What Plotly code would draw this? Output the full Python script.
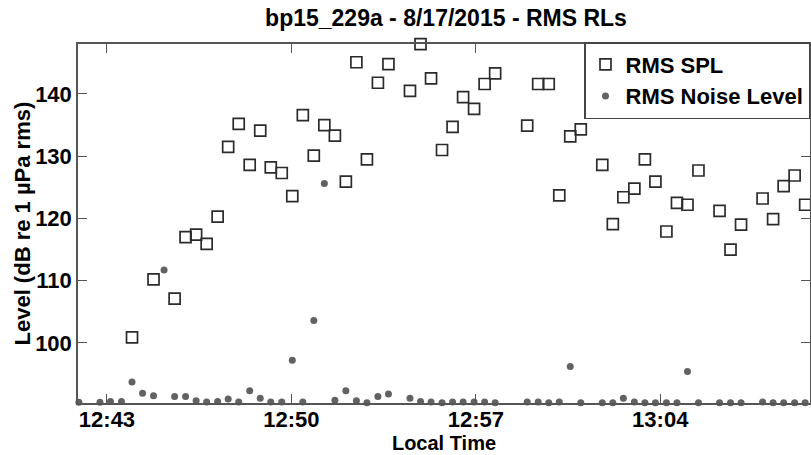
import plotly.graph_objects as go

DATE = "2015-08-17 "

times = ["12:41:56","12:42:44","12:43:08","12:43:33","12:43:57","12:44:21","12:44:46","12:45:10",
         "12:45:34","12:45:59","12:46:23","12:46:47","12:47:12","12:47:36","12:48:00","12:48:25",
         "12:48:49","12:49:13","12:49:38","12:50:02","12:50:26","12:50:51","12:51:15","12:51:39",
         "12:52:04","12:52:28","12:52:52","12:53:17","12:53:41","12:54:30","12:54:54","12:55:18",
         "12:55:43","12:56:07","12:56:31","12:56:56","12:57:20","12:57:44","12:58:57","12:59:22",
         "12:59:46","13:00:10","13:00:35","13:00:59","13:01:48","13:02:12","13:02:36","13:03:01",
         "13:03:25","13:03:49","13:04:14","13:04:38","13:05:02","13:05:27","13:06:15","13:06:40",
         "13:07:04","13:07:53","13:08:17","13:08:41","13:09:06","13:09:30","13:09:54"]

rms_spl = [None, None, None, None, 100.9, None, 110.2, None,
           107.1, 117.0, 117.4, 115.9, 120.3, 131.5, 135.2, 128.6,
           134.1, 128.2, 127.3, 123.6, 136.6, 130.1, 135.0, 133.3,
           125.9, 145.1, 129.5, 141.8, 144.8, 140.5, 148.0, 142.5,
           131.0, 134.7, 139.5, 137.6, 141.6, 143.3, 134.9, 141.6,
           141.6, 123.7, 133.2, 134.3, 128.6, 119.1, 123.4, 124.8,
           129.5, 125.9, 117.9, 122.5, 122.2, 127.7, 121.2, 115.0,
           119.0, 123.2, 119.9, 125.2, 126.9, 122.2, 117.9]

rms_noise = [90.45, 90.45, 90.6, 90.6, 93.7, 91.9, 91.5, 111.7,
             91.4, 91.4, 90.7, 90.5, 90.6, 91.0, 90.5, 92.3,
             91.1, 90.5, 90.5, 97.2, 90.5, 103.6, 125.6, 90.8,
             92.3, 90.7, 90.4, 91.4, 91.8, 91.1, 90.6, 90.5,
             90.4, 90.5, 90.5, 90.5, 90.5, 90.4, 90.5, 90.5,
             90.4, 90.5, 96.2, 90.4, 90.4, 90.4, 91.1, 90.5,
             90.4, 90.4, 90.4, 90.4, 95.4, 90.4, 90.4, 90.4,
             90.4, 90.5, 90.4, 90.4, 90.4, 90.4, None]

x_ticks = ["12:43", "12:50", "12:57", "13:04"]
y_ticks = [100, 110, 120, 130, 140]
x_range = ["12:41:54", "13:09:41"]
y_range = [90.34, 148.03]

title_text = "bp15_229a - 8/17/2015 - RMS RLs"
x_title = "Local Time"
y_title = "Level (dB re 1 \u00b5Pa rms)"

xs = [DATE + t for t in times]

fig = go.Figure()
fig.add_trace(go.Scatter(
    x=xs, y=rms_spl, mode="markers", name="RMS SPL",
    marker=dict(symbol="square-open", size=11, color="#2b2b2b", line=dict(width=1.7)),
    cliponaxis=False,
))
fig.add_trace(go.Scatter(
    x=xs, y=rms_noise, mode="markers", name="RMS Noise Level",
    marker=dict(symbol="circle", size=7, color="#626262", line=dict(width=0)),
    cliponaxis=False,
))

FONT = "Liberation Sans, Arial, sans-serif"
axis_common = dict(
    showline=True, linecolor="#555555", linewidth=1.5, mirror="ticks",
    ticks="inside", ticklen=9, tickwidth=1.3, tickcolor="#555555",
    showgrid=False, zeroline=False, ticklabelposition="outside",
    tickfont=dict(family=FONT, size=22, color="black", weight="bold"),
    automargin=False,
)

fig.update_layout(
    width=811, height=455,
    margin=dict(l=78, r=1, t=44, b=52),
    paper_bgcolor="white", plot_bgcolor="white",
    font=dict(family=FONT, size=22, color="black", weight="bold"),
    title=dict(text=title_text, x=446/811, xanchor="center", y=1 - 18/455, yanchor="middle",
               xref="container", yref="container",
               font=dict(family=FONT, size=23, color="black", weight="bold")),
    xaxis=dict(type="date", range=[DATE + x_range[0], DATE + x_range[1]],
               tickvals=[DATE + t + ":00" for t in x_ticks], ticktext=x_ticks,
               ticklabelstandoff=-4,
               title=dict(text=x_title, standoff=0,
                          font=dict(family=FONT, size=20, color="black", weight="bold")),
               **axis_common),
    yaxis=dict(range=y_range, tickvals=y_ticks, ticktext=[str(v) for v in y_ticks], **axis_common),
    showlegend=True,
    legend=dict(x=1.0, xanchor="right", y=1 + 2/359, yanchor="top",
                bgcolor="white", bordercolor="#444444", borderwidth=1.5,
                font=dict(family=FONT, size=22, color="black", weight="bold"),
                tracegroupgap=0, itemsizing="trace"),
)

fig.add_annotation(text=y_title, xref="paper", yref="paper", x=0, xshift=-56, y=0.5,
                   xanchor="center", yanchor="middle", textangle=-90, showarrow=False,
                   font=dict(family=FONT, size=22, color="black", weight="bold"))

fig.write_html("out.html")
